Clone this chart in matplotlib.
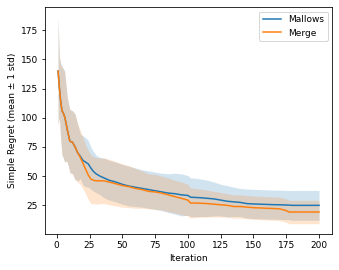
import numpy as np
import matplotlib
matplotlib.use("Agg")
import matplotlib.pyplot as plt

plt.rcParams['font.size'] = 9

iters = [1, 2, 3, 4, 5, 6, 7, 8, 9, 10, 11, 12, 14, 16, 18, 20, 22, 24, 26, 28,
         30, 33, 36, 40, 45, 50, 55, 60, 65, 70, 75, 80, 85, 90, 95, 100, 102,
         105, 110, 115, 120, 125, 130, 135, 140, 145, 150, 155, 160, 165, 170,
         175, 177, 180, 190, 200]

# Mallows
mallows_mean = [140, 126, 114, 106, 104, 101, 96, 90, 85, 80, 79.5, 79, 75, 70,
                67, 63.5, 62, 60.5, 57, 54, 52, 50, 48.5, 46.5, 45, 43, 41.5,
                40.5, 39.5, 38.5, 37.5, 36.5, 35.5, 35, 34, 33.5, 32, 31.8, 31.5,
                31, 30.5, 29.5, 28.5, 28, 27.5, 26.5, 26.2, 26, 25.8, 25.6, 25.5,
                25.3, 25.2, 25, 25, 25]
mallows_std = [46, 26, 32, 38, 38, 39, 33, 28, 27, 27, 27, 27, 28, 24, 19, 21,
               21, 20, 18, 17, 16, 16, 17, 17, 17, 17, 17, 16.5, 16, 16, 16,
               16, 16.5, 17.5, 18, 17, 16.5, 16.5, 16, 15.5, 14.5, 13.5, 13.5,
               12.5, 12, 12.5, 12.5, 12.5, 12.5, 12.5, 12.5, 12.5, 12.5, 12.75,
               12.75, 12.75]

# Merge
merge_mean = [140, 126, 114, 106, 104, 101, 96, 90, 85, 80, 79.5, 79, 75, 70,
              66, 61, 56, 51, 47.5, 46.5, 46, 46, 46, 45, 43.5, 42, 41, 39.5,
              38.5, 37, 36.5, 35.5, 34, 32.5, 31, 29.5, 27, 27, 26.8, 26.5, 26,
              25.5, 25, 24, 24, 23.5, 23, 22.8, 22.5, 22.3, 22, 20.5, 19.3, 19.3,
              19.3, 19.3]
merge_std = [46, 26, 32, 38, 38, 39, 33, 28, 27, 27, 27, 27, 28, 25, 23, 22,
             21, 21, 21, 20, 20, 19.5, 19.5, 19.5, 19, 18.5, 18, 17, 16, 15, 15,
             14.5, 14.5, 14, 14, 13.5, 13, 12.5, 12, 11.5, 11, 10.5, 10, 10, 10,
             10, 10, 10, 10, 10, 10, 10, 10, 10, 10, 10]

series = [("Mallows", mallows_mean, mallows_std, "tab:blue"),
          ("Merge", merge_mean, merge_std, "tab:orange")]

fig = plt.figure(figsize=(4.71, 3.75), dpi=72)
ax = fig.add_axes([0.1327, 0.1333, 0.8467, 0.8407])

x = np.array(iters)
for name, mean, std, color in series:
    mean = np.array(mean)
    std = np.array(std)
    ax.plot(x, mean, color=color, label=name, lw=1.5)
    ax.fill_between(x, mean - std, mean + std, color=color, alpha=0.2, lw=0)

ax.set_xticks([0, 25, 50, 75, 100, 125, 150, 175, 200])
ax.set_yticks([25, 50, 75, 100, 125, 150, 175])
ax.set_xlabel("Iteration")
ax.set_ylabel("Simple Regret (mean \u00b1 1 std)")
ax.legend(loc="upper right")

fig.savefig("out.png", dpi=72)
